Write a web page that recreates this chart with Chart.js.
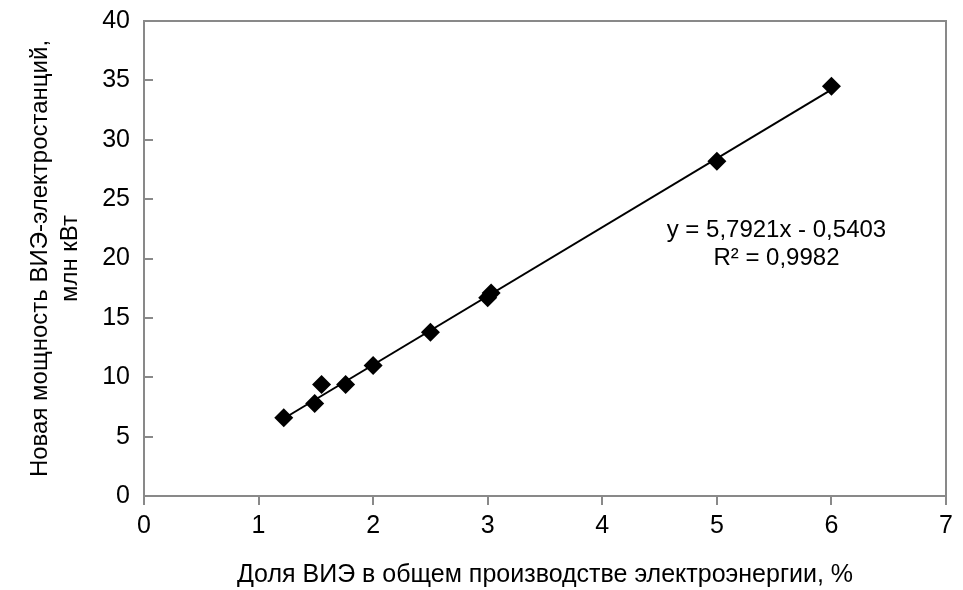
<!DOCTYPE html>
<html>
<head>
<meta charset="utf-8">
<script src="https://cdn.jsdelivr.net/npm/chart.js@4/dist/chart.umd.min.js"></script>
<style>
  html, body { margin: 0; padding: 0; background: #fff; }
  #wrap { width: 963px; height: 590px; }
</style>
</head>
<body>
<div id="wrap"><canvas id="chart" width="963" height="590"></canvas></div>
<script>
// share of renewables, % and new capacity, mln kW
const shareX = [1.22, 1.49, 1.55, 1.76, 2.0, 2.5, 3.0, 3.03, 5.0, 6.0];
const capacityY = [6.6, 7.8, 9.4, 9.4, 11.0, 13.8, 16.7, 17.1, 28.2, 34.5];

// trendline as printed on the chart
const slope = 5.7921;
const intercept = -0.5403;
const trendText = ["y = 5,7921x - 0,5403", "R² = 0,9982"];

const xTitle = "Доля ВИЭ в общем производстве электроэнергии, %";
const yTitle = ["Новая мощность ВИЭ-электростанций,", "млн кВт"];

const font = "'Liberation Sans', Arial, sans-serif";
const axisGray = "#898989";

const points = shareX.map((x, i) => ({ x: x, y: capacityY[i] }));
const xMin = Math.min(...shareX), xMax = Math.max(...shareX);
const trend = [
  { x: xMin, y: slope * xMin + intercept },
  { x: xMax, y: slope * xMax + intercept }
];

// frame, inward y ticks and the equation label
const extras = {
  id: "extras",
  afterDraw(chart) {
    const c = chart.ctx;
    const a = chart.chartArea;
    const xs = chart.scales.x, ys = chart.scales.y;
    c.save();
    c.strokeStyle = axisGray;
    c.lineWidth = 2;
    c.strokeRect(a.left, a.top, a.right - a.left, a.bottom - a.top);
    c.beginPath();
    for (let v = 0; v <= 40; v += 5) {
      const py = Math.round(ys.getPixelForValue(v));
      c.moveTo(a.left, py);
      c.lineTo(a.left + 9, py);
    }
    c.stroke();

    c.fillStyle = "#000";
    c.font = "24px " + font;
    c.textAlign = "center";
    c.textBaseline = "middle";
    c.fillText(trendText[0], xs.getPixelForValue(5.52), ys.getPixelForValue(22.4));
    c.fillText(trendText[1], xs.getPixelForValue(5.52), ys.getPixelForValue(20.0));
    c.restore();
  }
};

new Chart(document.getElementById("chart"), {
  type: "scatter",
  data: {
    datasets: [
      {
        label: "trend",
        type: "line",
        data: trend,
        borderColor: "#000",
        borderWidth: 2,
        pointRadius: 0,
        fill: false,
        order: 2
      },
      {
        label: "data",
        data: points,
        pointStyle: "rectRot",
        pointRadius: 9.5,
        backgroundColor: "#000",
        borderColor: "#000",
        borderWidth: 0,
        order: 1
      }
    ]
  },
  options: {
    responsive: false,
    animation: false,
    layout: { padding: { left: 0, top: 16, right: 17, bottom: 0 } },
    plugins: {
      legend: { display: false },
      tooltip: { enabled: false }
    },
    scales: {
      x: {
        type: "linear",
        min: 0,
        max: 7,
        ticks: { stepSize: 1, color: "#000", font: { family: font, size: 25 }, padding: 6 },
        grid: { drawOnChartArea: false, drawTicks: true, tickLength: 9, color: axisGray, lineWidth: 2 },
        border: { color: axisGray, width: 2 },
        title: { display: true, text: xTitle, color: "#000", font: { family: font, size: 25 }, padding: { top: 0, bottom: 0 } },
        afterFit(scale) { scale.height = 94; }
      },
      y: {
        type: "linear",
        min: 0,
        max: 40,
        ticks: { stepSize: 5, color: "#000", font: { family: font, size: 25 }, padding: 6 },
        grid: { display: false },
        border: { color: axisGray, width: 2 },
        title: { display: true, text: yTitle, color: "#000", font: { family: font, size: 24, lineHeight: 1.25 }, padding: { top: 25, bottom: 0 } },
        afterFit(scale) { scale.width = 144; }
      }
    }
  },
  plugins: [extras]
});
</script>
</body>
</html>
